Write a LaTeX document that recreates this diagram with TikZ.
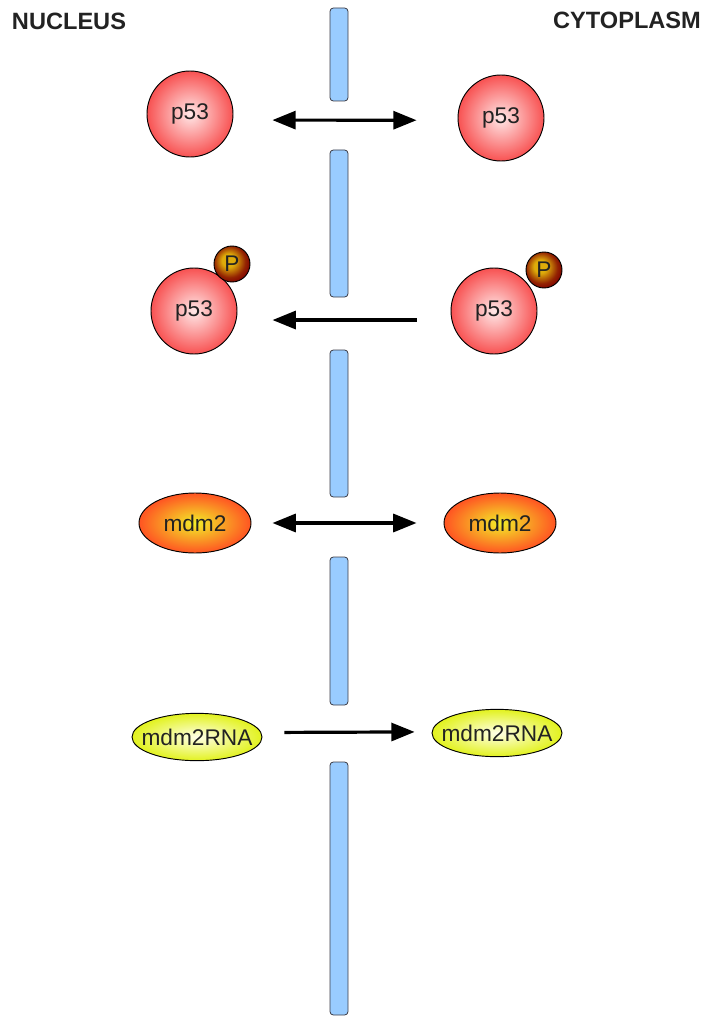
\documentclass[tikz,border=0pt]{standalone}
\usepackage{fontspec}
\setmainfont{Liberation Sans}
\usetikzlibrary{arrows.meta,shapes.geometric}

\definecolor{membfill}{RGB}{153,204,255}
\definecolor{membline}{RGB}{60,60,70}
\definecolor{txtgray}{RGB}{34,34,34}
\definecolor{p53in}{RGB}{255,232,232}
\definecolor{p53out}{RGB}{248,82,82}
\definecolor{pgold}{RGB}{222,172,10}
\definecolor{pdark}{RGB}{128,0,0}
\definecolor{mdmin}{RGB}{242,238,40}
\definecolor{mdmout}{RGB}{255,84,34}
\definecolor{rnain}{RGB}{255,255,232}
\definecolor{rnaout}{RGB}{226,242,30}

\pgfdeclareradialshading{p53shade}{\pgfpoint{0bp}{0bp}}{color(0bp)=(p53in); color(25bp)=(p53out); color(50bp)=(p53out)}
\pgfdeclareradialshading{pshade}{\pgfpoint{-6bp}{6bp}}{color(0bp)=(pgold); color(9bp)=(pgold); color(22bp)=(pdark!80!pgold); color(29bp)=(pdark); color(50bp)=(pdark)}
\pgfdeclareradialshading{mdmshade}{\pgfpoint{0bp}{0bp}}{color(0bp)=(mdmin); color(25bp)=(mdmout); color(50bp)=(mdmout)}
\pgfdeclareradialshading{rnashade}{\pgfpoint{0bp}{0bp}}{color(0bp)=(rnain); color(25bp)=(rnaout); color(50bp)=(rnaout)}

\begin{document}
\begin{tikzpicture}[
    x=0.75pt, y=-0.75pt,
    every node/.style={font=\fontsize{17}{20}\selectfont, text=txtgray},
    title/.style={font=\bfseries\fontsize{17.7}{20}\selectfont},
    prot/.style={circle, draw=black, line width=0.7pt, inner sep=0pt,
                 minimum size=64.5pt, shade, shading=p53shade},
    phos/.style={circle, draw=black, line width=0.7pt, inner sep=0pt,
                 minimum size=27pt, shade, shading=pshade},
    mdm/.style={ellipse, draw=black, line width=0.7pt, inner sep=0pt,
                minimum width=84pt, minimum height=45pt, shade, shading=mdmshade},
    rna/.style={ellipse, draw=black, line width=0.7pt, inner sep=0pt, inner xsep=-8.5pt,
                minimum width=97.5pt, minimum height=35.5pt, shade, shading=rnashade},
    memb/.style={draw=membline, fill=membfill, line width=0.6pt, rounded corners=2.5pt},
    flow/.style={-{Triangle[length=17.5pt, width=13.5pt]}, line width=2.4pt},
    dflow/.style={{Triangle[length=17.5pt, width=13.5pt]}-{Triangle[length=17.5pt, width=13.5pt]}, line width=2.4pt}
]
\useasboundingbox (0,0) rectangle (705,1016);

% compartments
\node[title] (nuc) at (69,21) {NUCLEUS};
\node[title] (cyt) at (627,20) {CYTOPLASM};

% nuclear membrane with pores
\foreach \ya/\yb in {8/101, 150/297, 350/497, 557/705, 762/1015}
  \draw[memb] (330,\ya) rectangle (348,\yb);

% species
\node[prot] (p53n) at (190,114) {p53};
\node[prot] (p53c) at (501,118) {p53};
\node[prot] (pp53n) at (194,311) {p53};
\node[phos] (pn) at (232,264) {P};
\node[prot] (pp53c) at (494,311) {p53};
\node[phos] (pc) at (544,270) {P};
\node[mdm] (mdm2n) at (195,523) {mdm2};
\node[mdm] (mdm2c) at (500,523) {mdm2};
\node[rna] (rnan) at (197,737) {mdm2RNA};
\node[rna] (rnac) at (497,733) {mdm2RNA};

% transport
\draw[dflow, shorten <=29.5pt, shorten >=30.75pt] (p53n.352) -- (p53c.183);
\draw[flow, shorten <=26pt, shorten >=27pt] (pp53c.192) -- (pp53n.348);
\draw[dflow, shorten <=15.75pt, shorten >=20.25pt] (mdm2n.east) -- (mdm2c.west);
\draw[flow, shorten <=17.25pt, shorten >=12.75pt] (rnan.4.4) -- (rnac.179);
\end{tikzpicture}
\end{document}
